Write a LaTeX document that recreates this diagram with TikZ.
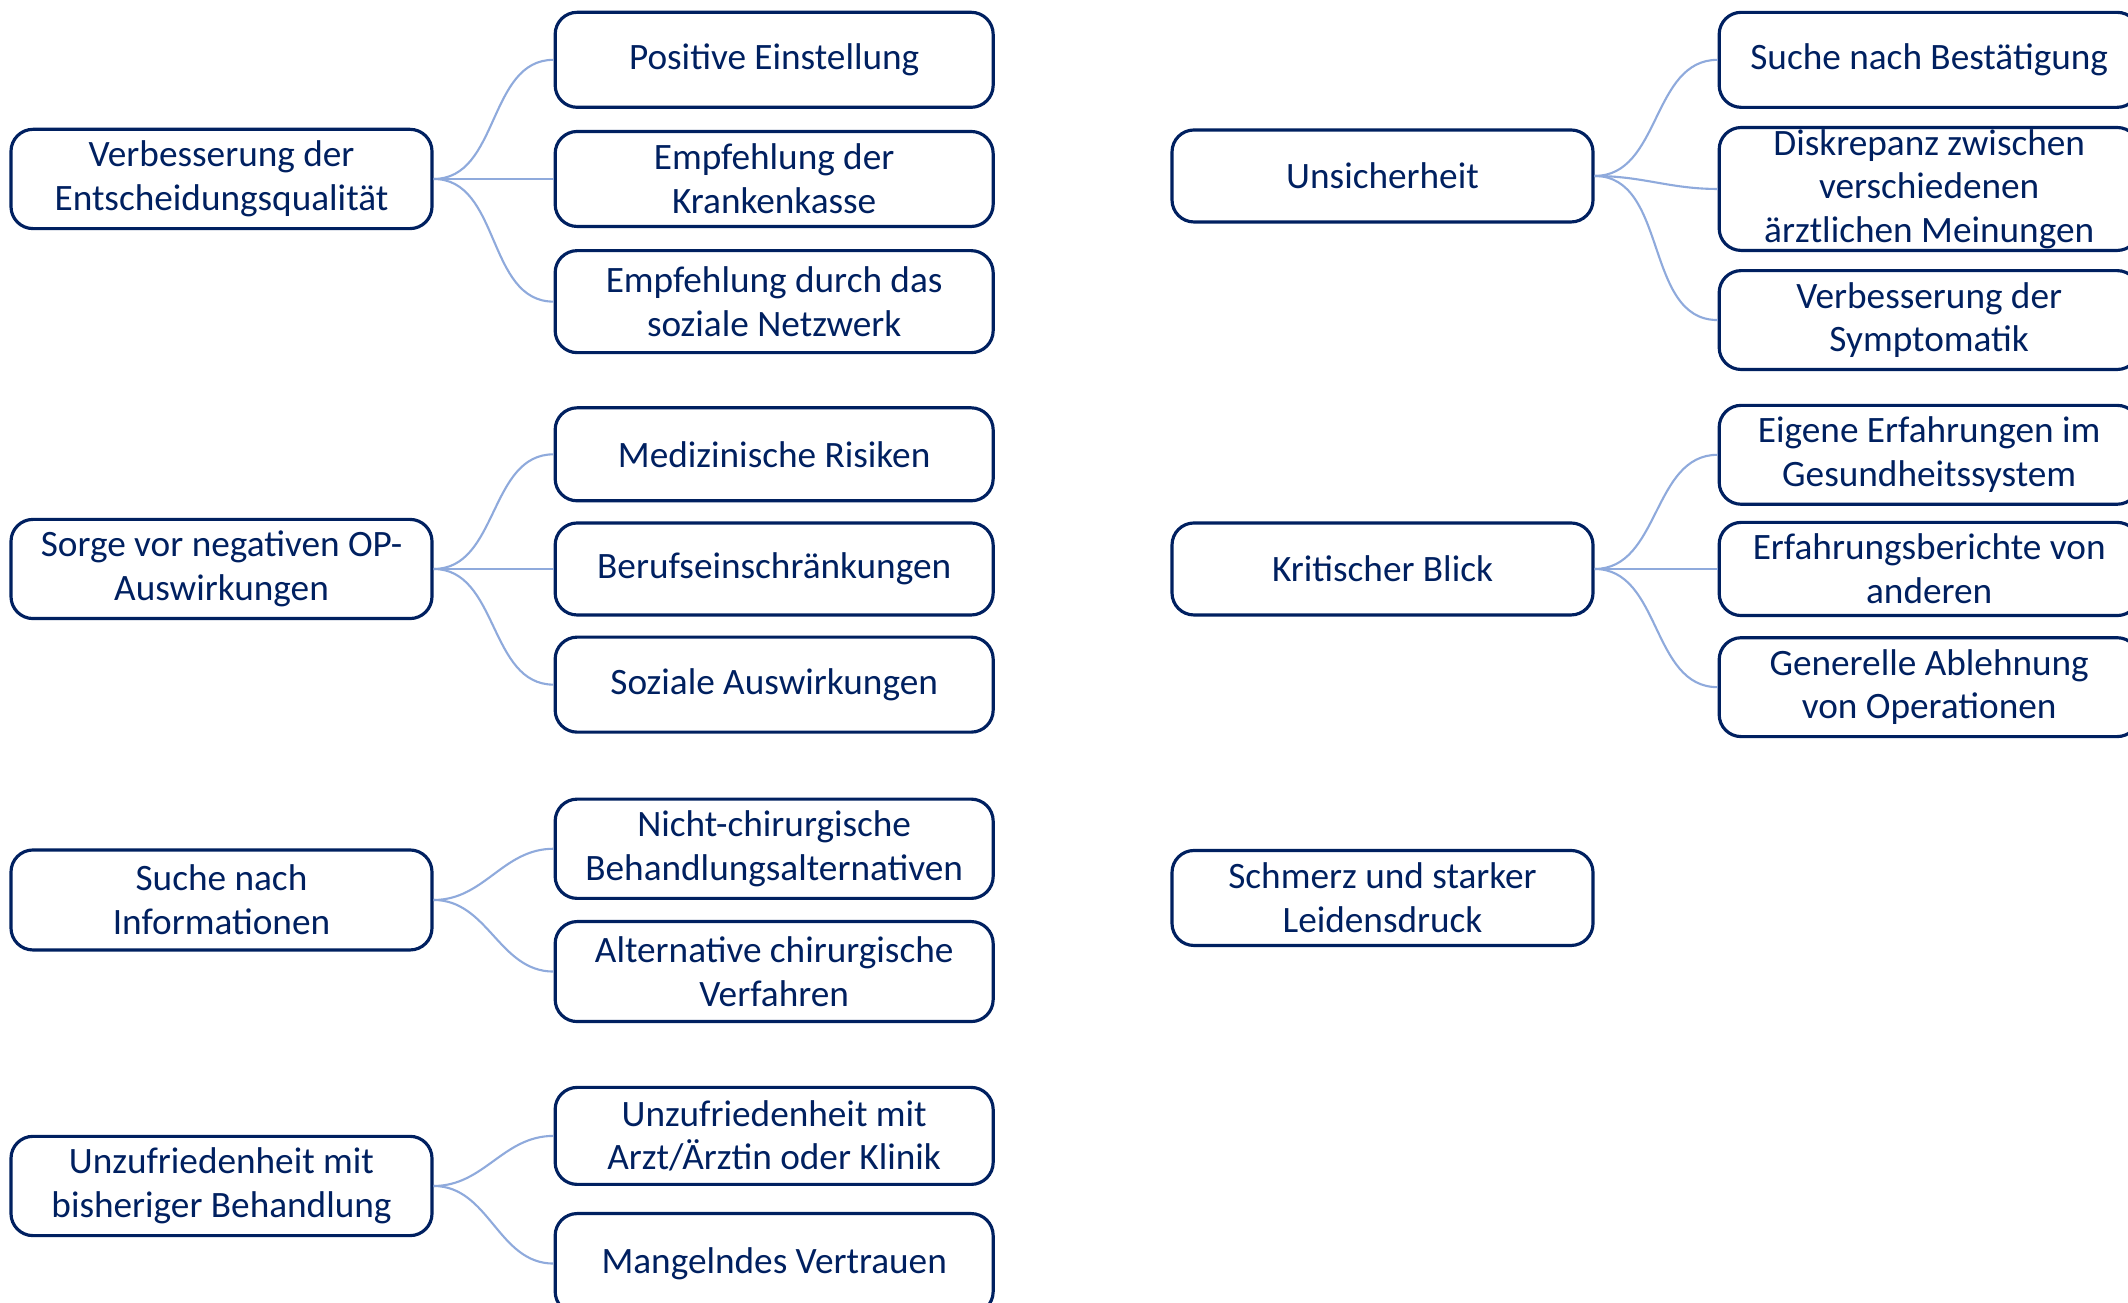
\documentclass[tikz,border=0pt]{standalone}
\usepackage{fontspec}
\setmainfont{Carlito}
\usepackage{xcolor}
\usepackage{tikz}
\usetikzlibrary{positioning,calc}

\definecolor{navy}{HTML}{002060}
\definecolor{linkblue}{HTML}{8FAADC}

\begin{document}
\begin{tikzpicture}[node distance=0.19cm and 1.2cm,
    block/.style={rectangle, draw=navy, line width=0.9pt, text=navy, align=center, rounded corners=0.22cm, minimum width=4.21cm, minimum height=0.95cm, font=\fontsize{10.6}{12.4}\selectfont},
    sub/.style={block, minimum width=4.38cm},
    rsub/.style={block, minimum width=4.2cm},
    link/.style={draw=linkblue, line width=0.6pt}]
  \clip (0,0) rectangle (21.28,13.03);

  % left column
  \node[block] (P1) at (2.215,11.24) {Verbesserung der\\Entscheidungsqualität};
  \node[sub, right=of P1] (P1b) {Empfehlung der\\Krankenkasse};
  \node[sub, above=0.21cm of P1b] (P1a) {Positive Einstellung};
  \node[sub, below=0.21cm of P1b, minimum height=1.02cm] (P1c) {Empfehlung durch das\\soziale Netzwerk};
  \draw[link] (P1.east) to[out=0, in=180] (P1a.west);
  \draw[link] (P1.east) to[out=0, in=180] (P1b.west);
  \draw[link] (P1.east) to[out=0, in=180] (P1c.west);

  \node[block, minimum height=0.92cm] (P2) at (2.215,7.34) {Sorge vor negativen OP-\\Auswirkungen};
  \node[sub, right=of P2, minimum height=0.92cm] (P2b) {Berufseinschränkungen};
  \node[sub, above=of P2b, minimum height=0.93cm] (P2a) {Medizinische Risiken};
  \node[sub, below=of P2b] (P2c) {Soziale Auswirkungen};
  \draw[link] (P2.east) to[out=0, in=180] (P2a.west);
  \draw[link] (P2.east) to[out=0, in=180] (P2b.west);
  \draw[link] (P2.east) to[out=0, in=180] (P2c.west);

  \node[block, minimum height=1.0cm] (P3) at (2.215,4.03) {Suche nach\\Informationen};
  \node[sub, anchor=south west, minimum height=0.97cm] (P3a) at ([xshift=1.2cm]P3.east) {Nicht-chirurgische\\Behandlungsalternativen};
  \node[sub, below=0.2cm of P3a, minimum height=1.0cm] (P3b) {Alternative chirurgische\\Verfahren};
  \draw[link] (P3.east) to[out=0, in=180] (P3a.west);
  \draw[link] (P3.east) to[out=0, in=180] (P3b.west);

  \node[block, minimum height=0.97cm] (P4) at (2.215,1.17) {Unzufriedenheit mit\\bisheriger Behandlung};
  \node[sub, anchor=south west, minimum height=0.97cm] (P4a) at ([xshift=1.2cm]P4.east) {Unzufriedenheit mit\\Arzt/Ärztin oder Klinik};
  \node[sub, below=0.26cm of P4a, minimum height=1.0cm] (P4b) {Mangelndes Vertrauen};
  \draw[link] (P4.east) to[out=0, in=180] (P4a.west);
  \draw[link] (P4.east) to[out=0, in=180] (P4b.west);

  % right column
  \node[block, minimum height=0.92cm] (Q1) at (13.825,11.27) {Unsicherheit};
  \node[rsub, right=1.23cm of Q1, yshift=-0.13cm, inner ysep=0.5pt] (Q1b) {Diskrepanz zwischen\\verschiedenen\\ärztlichen Meinungen};
  \node[rsub, above=0.17cm of Q1b] (Q1a) {Suche nach Bestätigung};
  \node[rsub, below=0.17cm of Q1b, minimum height=0.92cm] (Q1c) {Verbesserung der\\Symptomatik};
  \draw[link] (Q1.east) to[out=0, in=180] (Q1a.west);
  \draw[link] (Q1.east) to[out=0, in=180] (Q1b.west);
  \draw[link] (Q1.east) to[out=0, in=180] (Q1c.west);

  \node[block, minimum height=0.92cm] (Q2) at (13.825,7.34) {Kritischer Blick};
  \node[rsub, right=1.23cm of Q2, minimum height=0.92cm] (Q2b) {Erfahrungsberichte von\\anderen};
  \node[rsub, above=0.15cm of Q2b] (Q2a) {Eigene Erfahrungen im\\Gesundheitssystem};
  \node[rsub, below=of Q2b] (Q2c) {Generelle Ablehnung\\von Operationen};
  \draw[link] (Q2.east) to[out=0, in=180] (Q2a.west);
  \draw[link] (Q2.east) to[out=0, in=180] (Q2b.west);
  \draw[link] (Q2.east) to[out=0, in=180] (Q2c.west);

  \node[block] (Q3) at (13.825,4.05) {Schmerz und starker\\Leidensdruck};
\end{tikzpicture}
\end{document}
